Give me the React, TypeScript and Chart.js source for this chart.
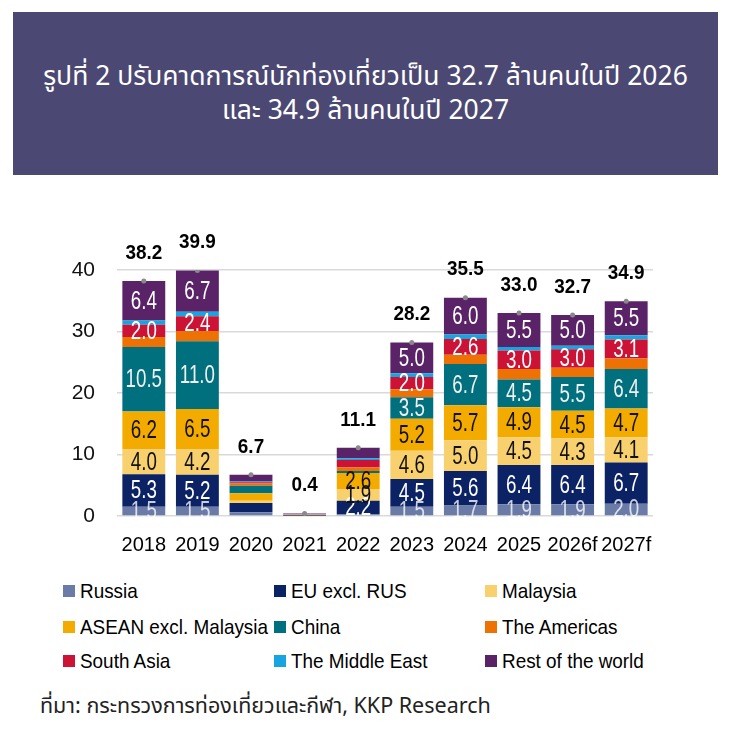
import React, { useEffect, useRef } from "react";
import { Chart, registerables } from "chart.js";

Chart.register(...registerables);

// ---------- data ----------
const years = ["2018", "2019", "2020", "2021", "2022", "2023", "2024", "2025", "2026f", "2027f"];

const russia = [1.5, 1.5, 0.6, 0.05, 0.3, 1.5, 1.7, 1.9, 1.9, 2.0];
const euExclRus = [5.3, 5.2, 1.5, 0.1, 2.2, 4.5, 5.6, 6.4, 6.4, 6.7];
const malaysia = [4.0, 4.2, 0.4, 0.01, 1.9, 4.6, 5.0, 4.5, 4.3, 4.1];
const aseanExclMalaysia = [6.2, 6.5, 1.2, 0.05, 2.6, 5.2, 5.7, 4.9, 4.5, 4.7];
const china = [10.5, 11.0, 1.2, 0.01, 0.3, 3.5, 6.7, 4.5, 5.5, 6.4];
const theAmericas = [1.6, 1.7, 0.4, 0.03, 0.6, 1.3, 1.5, 1.7, 1.5, 1.7];
const southAsia = [2.0, 2.4, 0.2, 0.05, 1.2, 2.0, 2.6, 3.0, 3.0, 3.1];
const theMiddleEast = [0.7, 0.7, 0.1, 0.02, 0.3, 0.6, 0.7, 0.6, 0.6, 0.7];
const restOfTheWorld = [6.4, 6.7, 1.1, 0.08, 1.7, 5.0, 6.0, 5.5, 5.0, 5.5];

const totals = [38.2, 39.9, 6.7, 0.4, 11.1, 28.2, 35.5, 33.0, 32.7, 34.9];

const seriesNames = [
  "Russia",
  "EU excl. RUS",
  "Malaysia",
  "ASEAN excl. Malaysia",
  "China",
  "The Americas",
  "South Asia",
  "The Middle East",
  "Rest of the world",
];
const seriesValues = [
  russia,
  euExclRus,
  malaysia,
  aseanExclMalaysia,
  china,
  theAmericas,
  southAsia,
  theMiddleEast,
  restOfTheWorld,
];
const seriesColors = [
  "#6a7ba8",
  "#0b2265",
  "#f8d06e",
  "#f4ab00",
  "#00707f",
  "#ee7203",
  "#cc1336",
  "#17a4e0",
  "#5b2367",
];
const labelColors = [
  "rgba(255,255,255,0.78)",
  "#ffffff",
  "#111111",
  "#111111",
  "#f0f0f0",
  "#ffffff",
  "#ffffff",
  "#ffffff",
  "#ffffff",
];

// which segment values are printed
const labelledSeries = ["Russia", "EU excl. RUS", "Malaysia", "ASEAN excl. Malaysia", "China", "South Asia", "Rest of the world"];
const yearsWithoutLabels = ["2020", "2021"];
const labelledSeries2022 = ["EU excl. RUS", "Malaysia", "ASEAN excl. Malaysia"];

const yTicks = [0, 10, 20, 30, 40];

const titleLines = [
  "รูปที่ 2 ปรับคาดการณ์นักท่องเที่ยวเป็น 32.7 ล้านคนในปี 2026",
  "และ 34.9 ล้านคนในปี 2027",
];
const sourceText = "ที่มา: กระทรวงการท่องเที่ยวและกีฬา, KKP Research";

const THAI_FONT = '"Noto Sans Thai", "Noto Sans Thai Looped", "Noto Sans", sans-serif';
const LATIN_FONT = '"Liberation Sans", Arial, sans-serif';

// ---------- layout ----------
const CANVAS_TOP = 190;
const CANVAS_H = 380;
const PLOT_TOP = 270;
const PLOT_BOTTOM = 516;
const PLOT_LEFT = 117;
const PLOT_RIGHT = 653;

function showLabel(seriesName: string, year: string): boolean {
  if (yearsWithoutLabels.includes(year)) return false;
  if (year === "2022") return labelledSeries2022.includes(seriesName);
  return labelledSeries.includes(seriesName);
}

const labelsPlugin = {
  id: "segmentLabels",
  afterDatasetsDraw(chart: any) {
    const ctx = chart.ctx as CanvasRenderingContext2D;
    const area = chart.chartArea;
    // segment labels
    ctx.save();
    ctx.beginPath();
    ctx.rect(area.left, 0, area.right - area.left, area.bottom + 1);
    ctx.clip();
    ctx.textAlign = "center";
    ctx.textBaseline = "middle";
    ctx.font = `25px ${LATIN_FONT}`;
    for (let d = 0; d < seriesNames.length; d++) {
      const meta = chart.getDatasetMeta(d);
      meta.data.forEach((el: any, i: number) => {
        if (!showLabel(seriesNames[d], years[i])) return;
        const cy = (el.y + el.base) / 2;
        ctx.save();
        ctx.translate(el.x, cy + 1);
        ctx.scale(0.75, 1);
        ctx.fillStyle = labelColors[d];
        ctx.fillText(seriesValues[d][i].toFixed(1), 0, 0);
        ctx.restore();
      });
    }
    ctx.restore();

    // total labels
    const totalMeta = chart.getDatasetMeta(seriesNames.length);
    ctx.save();
    ctx.textAlign = "center";
    ctx.textBaseline = "middle";
    ctx.font = `bold 21px ${LATIN_FONT}`;
    ctx.fillStyle = "#000";
    totalMeta.data.forEach((el: any, i: number) => {
      ctx.save();
      ctx.translate(el.x, el.y - 28);
      ctx.scale(0.9, 1);
      ctx.fillText(totals[i].toFixed(1), 0, 0);
      ctx.restore();
    });
    ctx.restore();
  },
};

function ChartCanvas() {
  const ref = useRef<HTMLCanvasElement | null>(null);
  useEffect(() => {
    if (!ref.current) return;
    const datasets: any[] = seriesNames.map((name, d) => ({
      type: "bar",
      label: name,
      data: seriesValues[d],
      backgroundColor: seriesColors[d],
      borderWidth: 0,
      categoryPercentage: 1,
      barPercentage: 0.8,
      stack: "visitors",
    }));
    datasets.push({
      type: "line",
      label: "Total",
      data: totals,
      stack: "total",
      showLine: false,
      pointRadius: 2.5,
      pointBackgroundColor: "#8a8a8a",
      pointBorderColor: "#8a8a8a",
      pointBorderWidth: 0,
      order: -1,
    });
    const chart = new Chart(ref.current, {
      type: "bar",
      data: { labels: years, datasets },
      options: {
        animation: false,
        responsive: true,
        maintainAspectRatio: false,
        layout: {
          padding: {
            top: PLOT_TOP - CANVAS_TOP,
            right: 732 - PLOT_RIGHT,
            bottom: 0,
            left: 0,
          },
        },
        plugins: {
          legend: { display: false },
          tooltip: { enabled: false },
        },
        scales: {
          x: {
            stacked: true,
            grid: { display: false, drawTicks: false },
            border: { display: false },
            ticks: {
              color: "#000",
              font: { family: LATIN_FONT, size: 20 },
              padding: 17,
              maxRotation: 0,
              autoSkip: false,
            },
            afterFit: (s: any) => {
              s.height = CANVAS_TOP + CANVAS_H - PLOT_BOTTOM;
            },
          },
          y: {
            stacked: true,
            min: 0,
            max: 40,
            afterBuildTicks: (s: any) => {
              s.ticks = yTicks.map((v) => ({ value: v }));
            },
            grid: { color: "#d9d9d9", lineWidth: 1.5, drawTicks: false },
            border: { display: false },
            ticks: {
              color: "#111",
              font: { family: LATIN_FONT, size: 21 },
              padding: 22,
            },
            afterFit: (s: any) => {
              s.width = PLOT_LEFT;
            },
          },
        },
      },
      plugins: [labelsPlugin],
    });
    return () => chart.destroy();
  }, []);
  return (
    <div style={{ position: "absolute", left: 0, top: CANVAS_TOP, width: 732, height: CANVAS_H }}>
      <canvas ref={ref} />
    </div>
  );
}

const legendCols = [63, 274, 485];
const legendRows = [591, 627, 661];

export default function App() {
  return (
    <div style={{ position: "absolute", left: 0, top: 0, width: 732, height: 730, background: "#fff", overflow: "hidden" }}>
      <div
        style={{
          position: "absolute",
          left: 13,
          top: 12,
          width: 705,
          height: 163,
          background: "#4b4873",
          color: "#fff",
          display: "flex",
          flexDirection: "column",
          justifyContent: "center",
          alignItems: "center",
          fontFamily: THAI_FONT,
          fontSize: 26.5,
          lineHeight: "34px",
          whiteSpace: "nowrap",
        }}
      >
        {titleLines.map((t) => (
          <div key={t}>{t}</div>
        ))}
      </div>
      <ChartCanvas />
      {seriesNames.map((name, i) => {
        const col = i % 3;
        const row = Math.floor(i / 3);
        return (
          <div
            key={name}
            style={{
              position: "absolute",
              left: legendCols[col],
              top: legendRows[row] - 14,
              height: 28,
              display: "flex",
              alignItems: "center",
              fontFamily: LATIN_FONT,
              fontSize: 21,
              color: "#000",
              whiteSpace: "nowrap",
            }}
          >
            <span style={{ display: "inline-block", width: 12, height: 12, background: seriesColors[i], marginRight: 5, flex: "none" }} />
            <span style={{ display: "inline-block", transform: "scaleX(0.9)", transformOrigin: "0 50%" }}>{name}</span>
          </div>
        );
      })}
      <div
        style={{
          position: "absolute",
          left: 40,
          top: 707 - 15,
          height: 30,
          lineHeight: "30px",
          fontFamily: THAI_FONT,
          fontSize: 21.5,
          color: "#222",
          whiteSpace: "nowrap",
        }}
      >
        {sourceText}
      </div>
    </div>
  );
}
